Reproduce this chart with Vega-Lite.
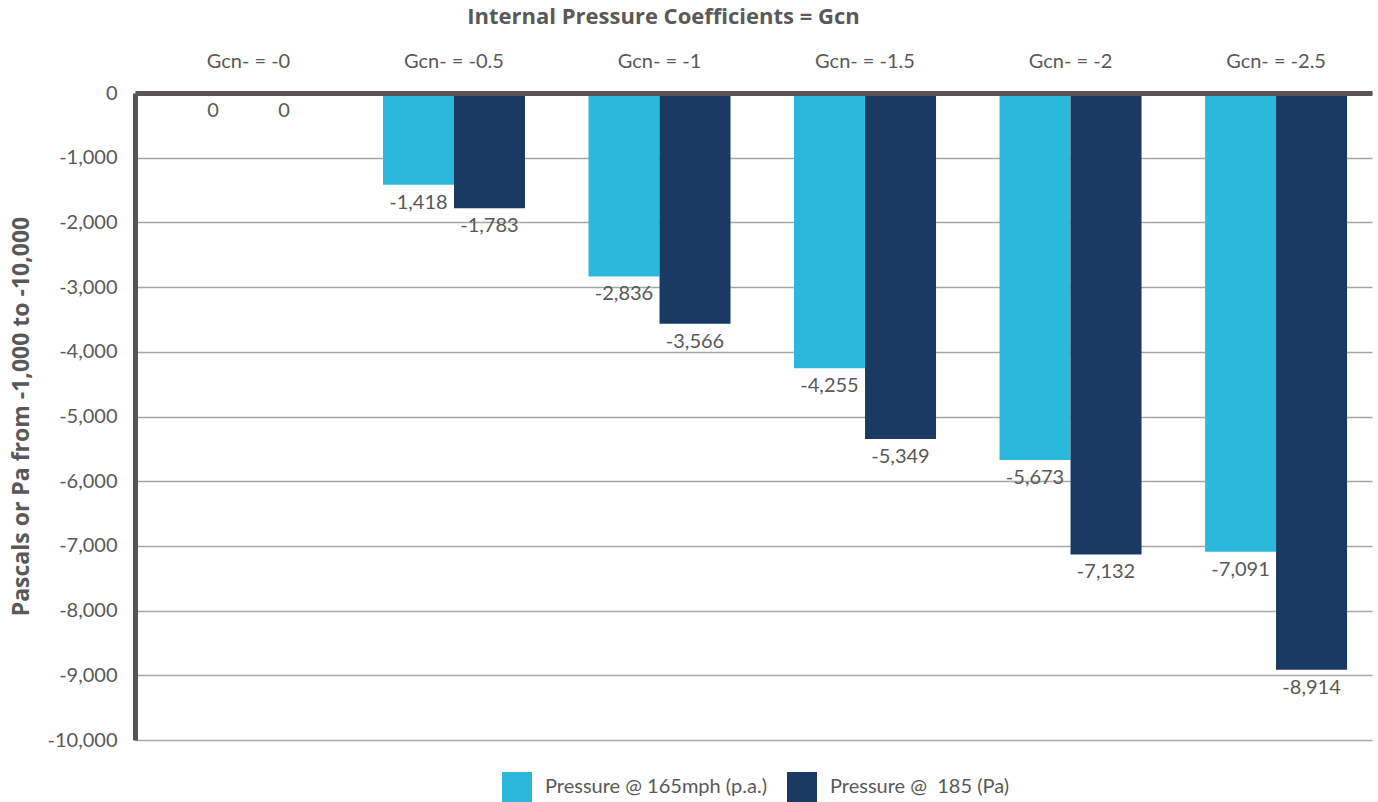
{
  "$schema": "https://vega.github.io/schema/vega-lite/v6.json",
  "width": 1237,
  "height": 647,
  "autosize": "none",
  "padding": {"left": 135, "top": 93, "right": 6, "bottom": 62},
  "background": "white",
  "config": {
    "font": "Lato",
    "view": {"stroke": null}
  },
  "title": {
    "text": "Internal Pressure Coefficients = Gcn",
    "fontSize": 22,
    "fontWeight": "bold",
    "color": "#595959",
    "font": "Open Sans",
    "anchor": "middle",
    "frame": "group",
    "dx": -90,
    "offset": 22
  },
  "data": {
    "values": [
      {"cat": "Gcn- = -0", "series": "Pressure @ 165mph (p.a.)", "value": 0},
      {"cat": "Gcn- = -0", "series": "Pressure @\u00a0 185 (Pa)", "value": 0},
      {"cat": "Gcn- = -0.5", "series": "Pressure @ 165mph (p.a.)", "value": -1418},
      {"cat": "Gcn- = -0.5", "series": "Pressure @\u00a0 185 (Pa)", "value": -1783},
      {"cat": "Gcn- = -1", "series": "Pressure @ 165mph (p.a.)", "value": -2836},
      {"cat": "Gcn- = -1", "series": "Pressure @\u00a0 185 (Pa)", "value": -3566},
      {"cat": "Gcn- = -1.5", "series": "Pressure @ 165mph (p.a.)", "value": -4255},
      {"cat": "Gcn- = -1.5", "series": "Pressure @\u00a0 185 (Pa)", "value": -5349},
      {"cat": "Gcn- = -2", "series": "Pressure @ 165mph (p.a.)", "value": -5673},
      {"cat": "Gcn- = -2", "series": "Pressure @\u00a0 185 (Pa)", "value": -7132},
      {"cat": "Gcn- = -2.5", "series": "Pressure @ 165mph (p.a.)", "value": -7091},
      {"cat": "Gcn- = -2.5", "series": "Pressure @\u00a0 185 (Pa)", "value": -8914}
    ]
  },
  "transform": [
    {"calculate": "replace(format(datum.value, ','), '\u2212', '-')", "as": "label"}
  ],
  "encoding": {
    "x": {
      "field": "cat",
      "type": "nominal",
      "sort": null,
      "scale": {"paddingInner": 0.309, "paddingOuter": 0.164, "align": 0.63},
      "axis": {
        "orient": "top",
        "title": null,
        "labelAngle": 0,
        "labelFontSize": 20,
        "labelColor": "#595959",
        "labelPadding": 22,
        "ticks": false,
        "domainColor": "#595353",
        "domainWidth": 5,
        "zindex": 2
      }
    },
    "xOffset": {
      "field": "series",
      "type": "nominal",
      "sort": ["Pressure @ 165mph (p.a.)", "Pressure @\u00a0 185 (Pa)"]
    },
    "y": {
      "field": "value",
      "type": "quantitative",
      "scale": {"domain": [-10000, 0], "nice": false},
      "axis": {
        "values": [0, -1000, -2000, -3000, -4000, -5000, -6000, -7000, -8000, -9000, -10000],
        "labelExpr": "replace(format(datum.value, ','), '\u2212', '-')",
        "title": "Pascals or Pa from -1,000 to -10,000",
        "titleFontSize": 23,
        "titleFontWeight": "bold",
        "titleColor": "#595959",
        "titleFont": "Open Sans",
        "titleAngle": 270,
        "titleX": -114,
        "titleY": 323,
        "titleAlign": "center",
        "titleBaseline": "middle",
        "labelFontSize": 20,
        "labelColor": "#595959",
        "labelPadding": 18,
        "ticks": false,
        "domainColor": "#595353",
        "domainWidth": 5,
        "gridColor": "#a6a6a6",
        "gridWidth": 1.5
      }
    }
  },
  "layer": [
    {
      "mark": {"type": "bar"},
      "encoding": {
        "color": {
          "field": "series",
          "type": "nominal",
          "sort": ["Pressure @ 165mph (p.a.)", "Pressure @\u00a0 185 (Pa)"],
          "scale": {"range": ["#2bb8dc", "#1a3a64"]},
          "legend": {
            "title": null,
            "orient": "none",
            "direction": "horizontal",
            "legendX": 367,
            "legendY": 679,
            "symbolType": "square",
            "symbolSize": 900,
            "symbolStrokeWidth": 0,
            "labelFontSize": 20,
            "labelColor": "#595959",
            "labelOffset": 13,
            "labelLimit": 0,
            "columnPadding": 20
          }
        }
      }
    },
    {
      "mark": {"type": "text", "baseline": "top", "dy": 8, "fontSize": 20, "color": "#595959"},
      "encoding": {
        "text": {"field": "label", "type": "nominal"}
      }
    }
  ]
}
